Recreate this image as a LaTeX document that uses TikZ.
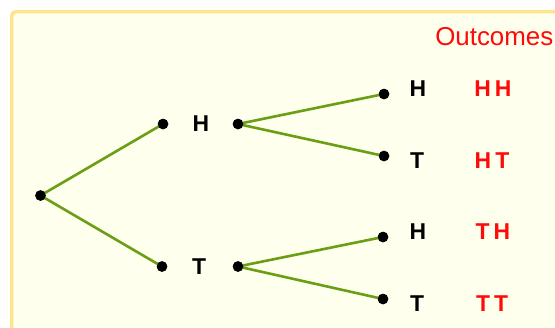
\documentclass[tikz,border=0pt]{standalone}
\usepackage{fontspec}
\setmainfont{Liberation Sans}
\definecolor{panelfill}{RGB}{255,255,238}
\definecolor{panelrim}{RGB}{255,228,140}
\definecolor{branch}{RGB}{106,158,20}
\definecolor{outred}{RGB}{255,10,10}
\begin{document}
\begin{tikzpicture}[x=1bp,y=-1bp,
  dot/.style={circle,fill=black,inner sep=0pt,minimum size=10.5bp},
  coin/.style={font=\fontsize{23}{23}\selectfont\bfseries,text=black,inner sep=0pt},
  result/.style={font=\fontsize{23}{23}\selectfont\bfseries,text=outred,inner sep=0pt},
  branchline/.style={draw=branch,line width=2.6bp}]
\useasboundingbox (0,0) rectangle (555,327);
\clip (0,0) rectangle (555,327);
% backdrop panel
\draw[panelrim,line width=3.5bp,fill=panelfill,rounded corners=5bp] (11.5,11.5) rectangle (600,360);
% heading
\node[font=\fontsize{26}{26}\selectfont,text=outred,inner sep=0pt,anchor=east] (head) at (553.5,37) {Outcomes};
% dots
\node[dot] (root) at (40.5,195.5) {};
\node[dot] (h1) at (163,124) {};
\node[dot] (h1r) at (238,124) {};
\node[dot] (t1) at (162,266.5) {};
\node[dot] (t1r) at (238,266.5) {};
\node[dot] (hh) at (384,94) {};
\node[dot] (ht) at (384,156) {};
\node[dot] (th) at (383,237) {};
\node[dot] (tt) at (383,299) {};
% first toss labels
\node[coin] (lh1) at (201,124) {H};
\node[coin] (lt1) at (199,267) {T};
% second toss labels
\node[coin] (lhh) at (418,89) {H};
\node[coin] (lht) at (417,161) {T};
\node[coin] (lth) at (418,232) {H};
\node[coin] (ltt) at (417,304) {T};
% outcomes
\node[result] (ohh) at (493,89) {H\hspace{4bp}H};
\node[result] (oht) at (492,161) {H\hspace{4bp}T};
\node[result] (oth) at (493,232) {T\hspace{4bp}H};
\node[result] (ott) at (492,304) {T\hspace{4bp}T};
% branches
\path[branchline] (root.center) -- (h1.center);
\path[branchline] (root.center) -- (t1.center);
\path[branchline] (h1r.center) -- (hh.center);
\path[branchline] (h1r.center) -- (ht.center);
\path[branchline] (t1r.center) -- (th.center);
\path[branchline] (t1r.center) -- (tt.center);
% redraw dots on top of branches
\foreach \d in {root,h1,h1r,t1,t1r,hh,ht,th,tt}
  \fill (\d) circle (5.25bp);
\end{tikzpicture}
\end{document}
